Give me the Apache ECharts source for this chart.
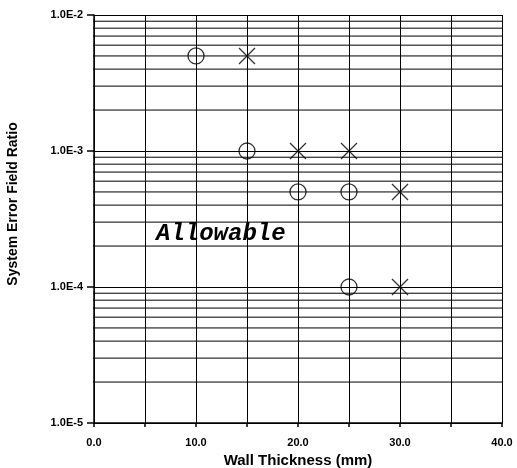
<!DOCTYPE html>
<html><head><meta charset="utf-8">
<script src="https://cdn.jsdelivr.net/npm/echarts@6/dist/echarts.min.js"></script>
<style>html,body{margin:0;padding:0;background:#fff}#c{width:517px;height:468px}</style>
</head><body><div id="c"></div>
<script>
const circlePoints = [[10, 5e-3], [15, 1e-3], [20, 5e-4], [25, 5e-4], [25, 1e-4]];
const crossPoints = [[15, 5e-3], [20, 1e-3], [25, 1e-3], [30, 5e-4], [30, 1e-4]];
const minorGrid = [];
[1e-5, 1e-4, 1e-3].forEach(d => { for (let m = 2; m <= 9; m++) minorGrid.push(+(m * d).toPrecision(3)); });
const xMin = 0, xMax = 40, xStep = 5;
const yMin = 1e-5, yMax = 1e-2;
const minorTickStart = -0.45;

const chart = echarts.init(document.getElementById('c'));
const lbl = {color: '#000', fontFamily: 'Liberation Sans, Arial', fontWeight: 'bold', fontSize: 11};
const gridSeries = minorGrid.map(v => ({
  type: 'line', data: [[minorTickStart, v], [xMax, v]], symbol: 'none', silent: true, clip: false,
  lineStyle: {color: '#000', width: 1}, z: 1
}));
chart.setOption({
  animation: false,
  grid: {left: 94, right: 15, top: 15, bottom: 45, outerBoundsMode: 'none', containLabel: false},
  xAxis: {
    type: 'value', min: xMin, max: xMax, interval: xStep,
    name: 'Wall Thickness (mm)', nameLocation: 'middle', nameGap: 27,
    nameTextStyle: {color: '#000', fontFamily: 'Liberation Sans, Arial', fontWeight: 'bold', fontSize: 15},
    axisLine: {lineStyle: {color: '#000', width: 1.5}},
    axisTick: {inside: false, length: 4, lineStyle: {color: '#000', width: 1.5}},
    axisLabel: Object.assign({margin: 14, formatter: v => (v % 10 === 0 ? v.toFixed(1) : '')}, lbl),
    splitLine: {show: true, lineStyle: {color: '#000', width: 1}}
  },
  yAxis: {
    type: 'log', logBase: 10, min: yMin, max: yMax,
    axisLine: {lineStyle: {color: '#000', width: 1.5}},
    axisTick: {length: 7, lineStyle: {color: '#000', width: 1.5}},
    axisLabel: Object.assign({margin: 11, formatter: v => '1.0E' + Math.round(Math.log10(v))}, lbl),
    splitLine: {show: true, lineStyle: {color: '#000', width: 1}}
  },
  series: gridSeries.concat([
    {
      type: 'scatter', data: circlePoints, symbol: 'circle', symbolSize: 16,
      itemStyle: {color: 'none', borderColor: '#000', borderWidth: 1.3},
      z: 5
    },
    {
      type: 'scatter', data: crossPoints, symbol: 'path://M0,0L10,10M10,0L0,10', symbolSize: 16,
      itemStyle: {color: 'none', borderColor: '#000', borderWidth: 1.3},
      z: 5
    }
  ]),
  graphic: [
    {
      type: 'text', left: 156, top: 222,
      style: {text: 'Allowable', fill: '#000', font: 'italic bold 24px "Liberation Mono", "Courier New", monospace'}
    },
    {
      type: 'text', x: 13, y: 204, rotation: Math.PI / 2,
      style: {text: 'System Error Field Ratio', fill: '#000', align: 'center', verticalAlign: 'middle',
        font: 'bold 14px "Liberation Sans", Arial'}
    }
  ]
});
</script></body></html>
